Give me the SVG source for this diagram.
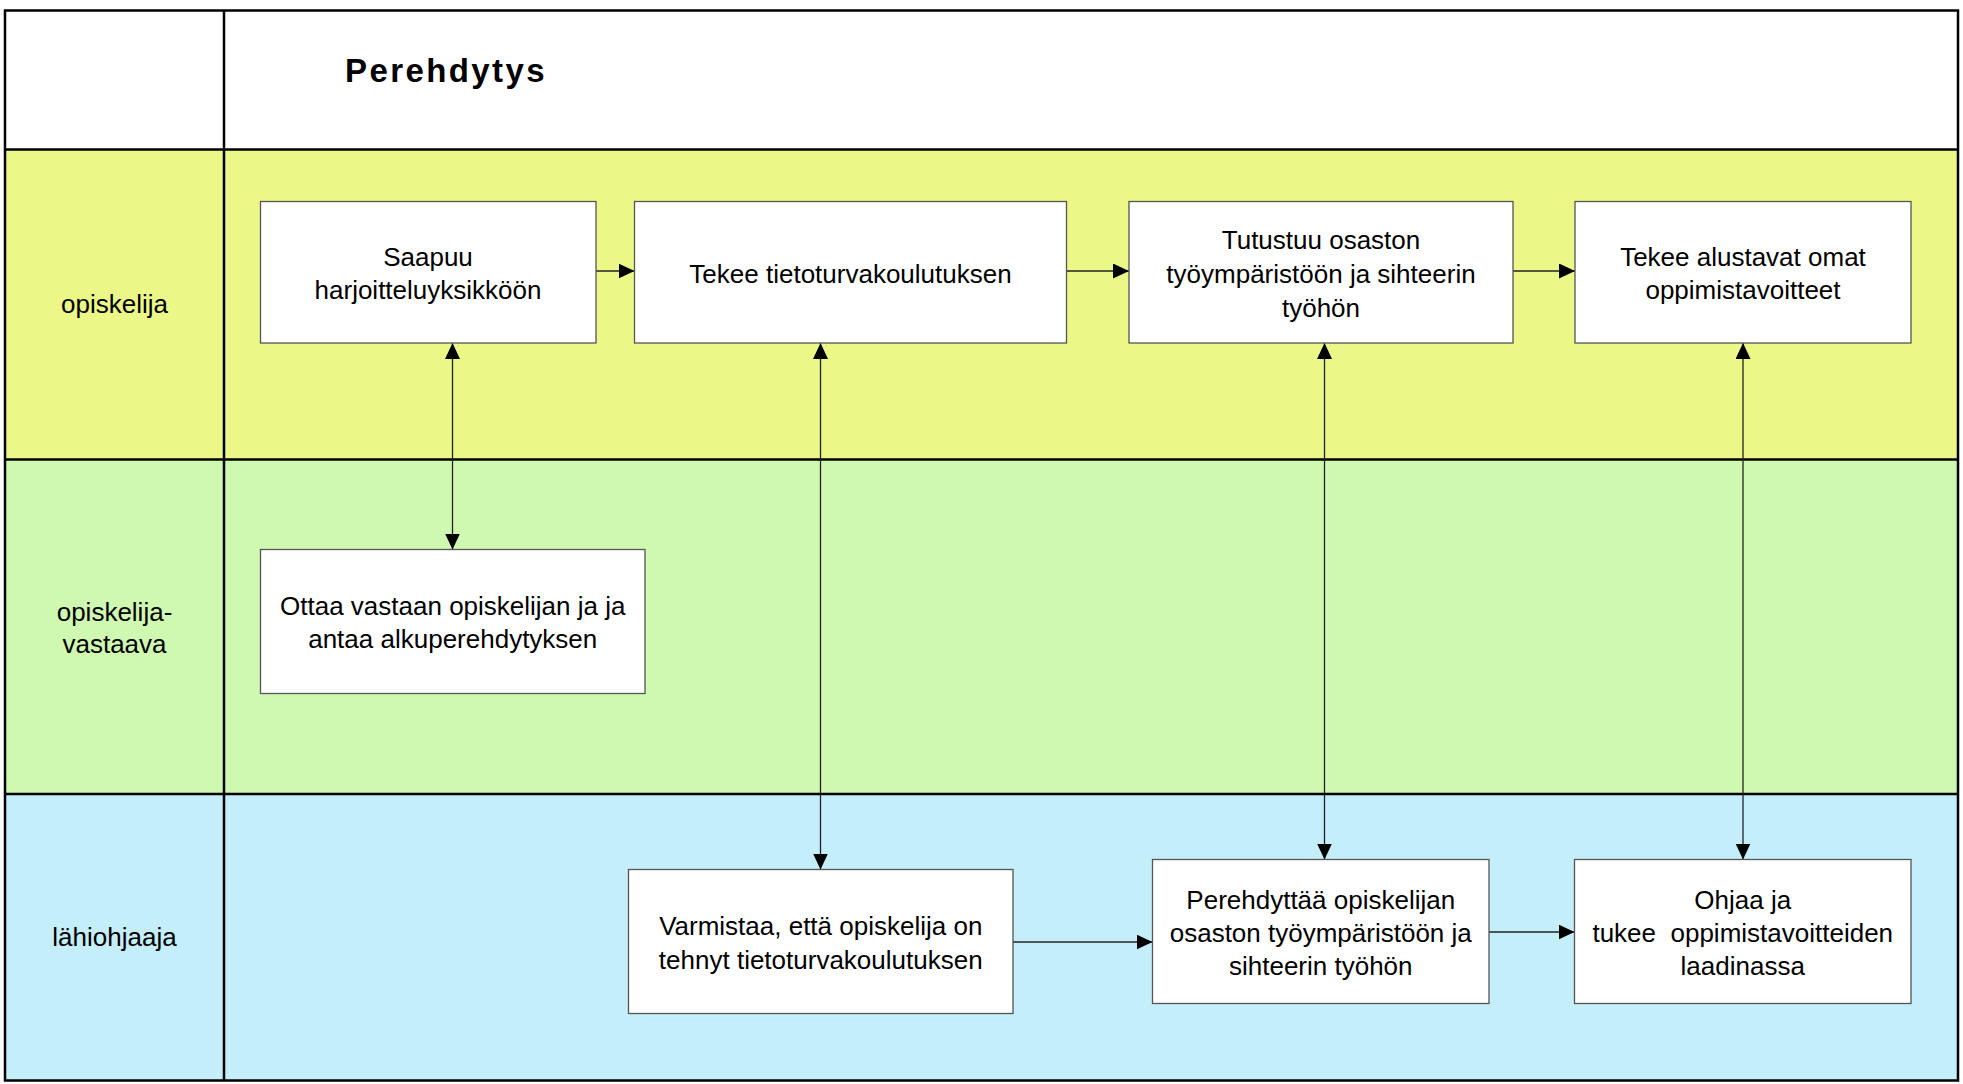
<svg xmlns="http://www.w3.org/2000/svg" width="1963" height="1084" viewBox="0 0 1963 1084">
<style>
.lane{stroke:none}
.grid{stroke:#000;stroke-width:2.5;fill:none}
.box{fill:#fff;stroke:#555;stroke-width:1.3}
.t{font-family:"Liberation Sans",Arial,sans-serif;font-size:26px;fill:#000;text-anchor:middle;white-space:pre}
.title{font-family:"Liberation Sans",Arial,sans-serif;font-size:33px;font-weight:bold;letter-spacing:2.4px;fill:#000}
.c{stroke:#222;stroke-width:1.3;fill:none}
.ar{marker-end:url(#ah)}
.bi{marker-start:url(#ah);marker-end:url(#ah)}
</style>
<defs>
<marker id="ah" markerWidth="16" markerHeight="15" refX="16" refY="7.5" orient="auto-start-reverse" markerUnits="userSpaceOnUse">
<path d="M0,0 L16,7.5 L0,15 z" fill="#000"/>
</marker>
</defs>
<rect width="1963" height="1084" fill="#fff"/>
<g id="lanes">
<rect class="lane" x="5" y="10.5" width="1953" height="139" fill="#fff"/>
<rect class="lane" x="5" y="149.5" width="1953" height="310" fill="#EBF787"/>
<rect class="lane" x="5" y="459.5" width="1953" height="334.5" fill="#CFF9B1"/>
<rect class="lane" x="5" y="794" width="1953" height="286.5" fill="#C4EEFA"/>
<rect class="grid" x="5" y="10.5" width="1953" height="1070"/>
<line class="grid" x1="224" y1="10.5" x2="224" y2="1080.5"/>
<line class="grid" x1="5" y1="149.5" x2="1958" y2="149.5"/>
<line class="grid" x1="5" y1="459.5" x2="1958" y2="459.5"/>
<line class="grid" x1="5" y1="794" x2="1958" y2="794"/>
<text class="title" x="345" y="82">Perehdytys</text>
<text class="t" x="114.5" y="313">opiskelija</text>
<text class="t" x="114.5" y="621">opiskelija-</text>
<text class="t" x="114.5" y="653">vastaava</text>
<text class="t" x="114.5" y="946">lähiohjaaja</text>
</g>
<g id="connectors">
<line class="c ar" x1="596" y1="271" x2="634.5" y2="271"/>
<line class="c ar" x1="1066.5" y1="271" x2="1129" y2="271"/>
<line class="c ar" x1="1513" y1="271" x2="1575" y2="271"/>
<line class="c bi" x1="452.5" y1="343" x2="452.5" y2="549.5"/>
<line class="c bi" x1="820.5" y1="343" x2="820.5" y2="869.5"/>
<line class="c bi" x1="1324.5" y1="343" x2="1324.5" y2="859.5"/>
<line class="c bi" x1="1743" y1="343" x2="1743" y2="859.5"/>
<line class="c ar" x1="1013" y1="942" x2="1152.5" y2="942"/>
<line class="c ar" x1="1489" y1="932" x2="1574.5" y2="932"/>
</g>
<g id="n1">
<rect class="box" x="260.5" y="201.5" width="335.5" height="141.5"/>
<text class="t" x="428" y="266">Saapuu</text>
<text class="t" x="428" y="299">harjoitteluyksikköön</text>
</g>
<g id="n2">
<rect class="box" x="634.5" y="201.5" width="432" height="141.5"/>
<text class="t" x="850.5" y="282.5">Tekee tietoturvakoulutuksen</text>
</g>
<g id="n3">
<rect class="box" x="1129" y="201.5" width="384" height="141.5"/>
<text class="t" x="1321" y="249">Tutustuu osaston</text>
<text class="t" x="1321" y="283">työympäristöön ja sihteerin</text>
<text class="t" x="1321" y="317">työhön</text>
</g>
<g id="n4">
<rect class="box" x="1575" y="201.5" width="336" height="141.5"/>
<text class="t" x="1743" y="265.5">Tekee alustavat omat</text>
<text class="t" x="1743" y="299">oppimistavoitteet</text>
</g>
<g id="n5">
<rect class="box" x="260.5" y="549.5" width="384.5" height="144"/>
<text class="t" x="452.75" y="615">Ottaa vastaan opiskelijan ja ja</text>
<text class="t" x="452.75" y="648">antaa alkuperehdytyksen</text>
</g>
<g id="n6">
<rect class="box" x="628.5" y="869.5" width="384.5" height="144"/>
<text class="t" x="820.75" y="935">Varmistaa, että opiskelija on</text>
<text class="t" x="820.75" y="969">tehnyt tietoturvakoulutuksen</text>
</g>
<g id="n7">
<rect class="box" x="1152.5" y="859.5" width="336.5" height="144"/>
<text class="t" x="1320.75" y="909">Perehdyttää opiskelijan</text>
<text class="t" x="1320.75" y="942">osaston työympäristöön ja</text>
<text class="t" x="1320.75" y="975">sihteerin työhön</text>
</g>
<g id="n8">
<rect class="box" x="1574.5" y="859.5" width="336.5" height="144"/>
<text class="t" x="1742.75" y="909">Ohjaa ja</text>
<text class="t" x="1742.75" y="942">tukee  oppimistavoitteiden</text>
<text class="t" x="1742.75" y="975">laadinassa</text>
</g>
</svg>
